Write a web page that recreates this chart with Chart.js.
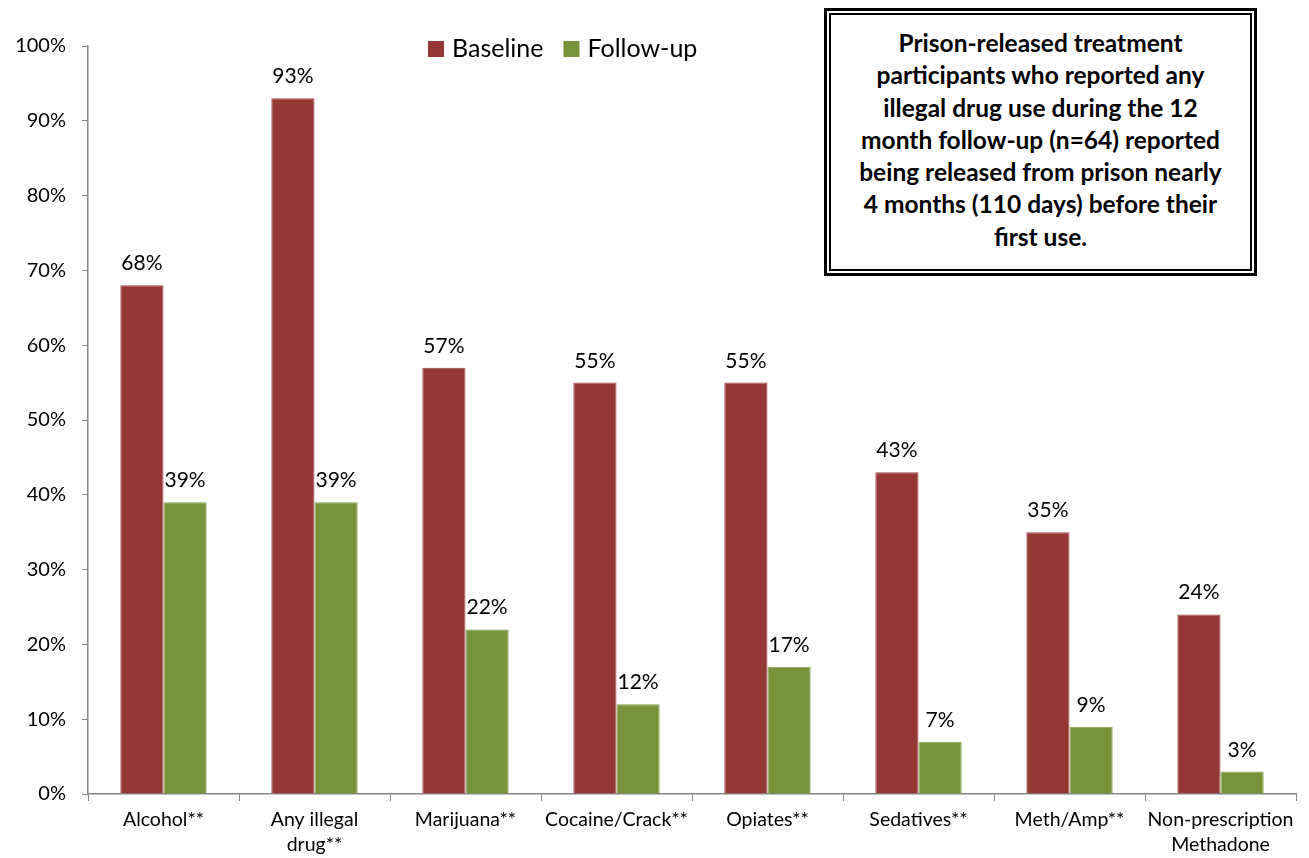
<!DOCTYPE html>
<html>
<head>
<meta charset="utf-8">
<script src="https://cdn.jsdelivr.net/npm/chart.js@4.4.1/dist/chart.umd.min.js"></script>
<style>
  html, body { margin: 0; padding: 0; background: #fff; }
  #wrap { position: relative; width: 1309px; height: 858px; }
  #note {
    position: absolute; left: 824px; top: 8px; width: 423px; height: 258px;
    border: 3px solid #000; padding: 2px; background: #fff;
  }
  #note div {
    box-sizing: border-box; width: 100%; height: 100%;
    border: 2px solid #000;
    display: flex; align-items: center; justify-content: center; text-align: center;
    font-family: Lato, sans-serif; font-weight: bold; font-size: 24.5px; line-height: 32.3px;
    color: #000; padding: 0 4px 4px;
  }
</style>
</head>
<body>
<div id="wrap">
  <canvas id="drugChart" width="1309" height="858"></canvas>
  <div id="note"><div>Prison-released treatment<br>participants who reported any<br>illegal drug use during the 12<br>month follow-up (n=64) reported<br>being released from prison nearly<br>4 months (110 days) before their<br>first use.</div></div>
</div>
<script>
// Categories and series values (percent)
const categories = [
  'Alcohol**', ['Any illegal', 'drug**'], 'Marijuana**', 'Cocaine/Crack**',
  'Opiates**', 'Sedatives**', 'Meth/Amp**', ['Non-prescription', 'Methadone']
];
const baseline = [68, 93, 57, 55, 55, 43, 35, 24];
const followUp = [39, 39, 22, 12, 17, 7, 9, 3];
const yTicks = [0, 10, 20, 30, 40, 50, 60, 70, 80, 90, 100];

const FONT = 'Lato, sans-serif';
const AXIS = '#868686';

// value labels above each bar
const valueLabels = {
  id: 'valueLabels',
  afterDatasetsDraw(chart) {
    const ctx = chart.ctx;
    ctx.save();
    ctx.font = '21px ' + FONT;
    ctx.fillStyle = '#000';
    ctx.textAlign = 'center';
    ctx.textBaseline = 'alphabetic';
    chart.data.datasets.forEach((ds, i) => {
      chart.getDatasetMeta(i).data.forEach((bar, j) => {
        ctx.fillText(ds.data[j] + '%', bar.x, bar.y - 15);
      });
    });
    ctx.restore();
  }
};

// legend drawn inside the plot, left of centre
const topLegend = {
  id: 'topLegend',
  afterDraw(chart) {
    const ctx = chart.ctx;
    ctx.save();
    ctx.font = '25px ' + FONT;
    ctx.textBaseline = 'middle';
    let x = 428;
    const y = 49;
    chart.data.datasets.forEach(ds => {
      ctx.fillStyle = ds.backgroundColor;
      ctx.fillRect(x, y - 8, 16, 16);
      ctx.fillStyle = '#000';
      ctx.fillText(ds.label, x + 24, y);
      x += 24 + ctx.measureText(ds.label).width + 20;
    });
    ctx.restore();
  }
};

const chart = new Chart(document.getElementById('drugChart'), {
  type: 'bar',
  data: {
    labels: categories,
    datasets: [
      { label: 'Baseline', data: baseline, backgroundColor: '#953735', borderColor: '#a04b49', borderWidth: 1 },
      { label: 'Follow-up', data: followUp, backgroundColor: '#77933c', borderColor: '#86a14d', borderWidth: 1 }
    ]
  },
  options: {
    responsive: false,
    animation: false,
    events: [],
    layout: { padding: { top: 46, right: 13, left: 0, bottom: 0 } },
    datasets: { bar: { categoryPercentage: 0.572, barPercentage: 1 } },
    plugins: { legend: { display: false }, tooltip: { enabled: false } },
    scales: {
      x: {
        grid: { display: true, drawOnChartArea: false, offset: true, tickLength: 7, color: AXIS },
        border: { color: AXIS, width: 1.5 },
        ticks: { font: { family: FONT, size: 19.5, lineHeight: 1.3 }, color: '#000', padding: 6, maxRotation: 0, autoSkip: false },
        afterFit: s => { s.height = 64; }
      },
      y: {
        min: 0, max: 100,
        afterBuildTicks: s => { s.ticks = yTicks.map(v => ({ value: v })); },
        grid: { display: true, drawOnChartArea: false, tickLength: 6, color: AXIS },
        border: { color: AXIS, width: 1.5 },
        ticks: { font: { family: FONT, size: 20 }, color: '#000', padding: 16, callback: v => v + '%' },
        afterFit: s => { s.width = 88; }
      }
    }
  },
  plugins: [valueLabels, topLegend]
});
</script>
</body>
</html>
